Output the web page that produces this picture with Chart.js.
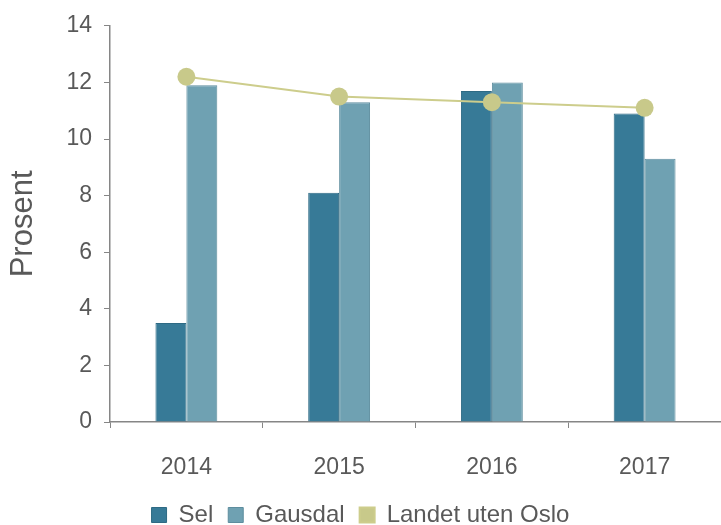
<!DOCTYPE html>
<html>
<head>
<meta charset="utf-8">
<script src="https://cdn.jsdelivr.net/npm/chart.js@4"></script>
<style>
  html, body { margin: 0; padding: 0; background: #fff; }
  canvas { display: block; }
</style>
</head>
<body>
<canvas id="chart" width="721" height="525"></canvas>
<script>
// data
const years = ['2014', '2015', '2016', '2017'];
const sel = [3.5, 8.1, 11.7, 10.9];
const gausdal = [11.9, 11.3, 12.0, 9.3];
const landetUtenOslo = [12.2, 11.5, 11.3, 11.1];
const yTicks = [0, 2, 4, 6, 8, 10, 12, 14];

const textColor = '#595959';
const axisColor = '#868686';
const fontFamily = 'Liberation Sans, Arial';

const ctx = document.getElementById('chart').getContext('2d');
new Chart(ctx, {
  type: 'bar',
  data: {
    labels: years,
    datasets: [
      {
        label: 'Sel',
        data: sel,
        backgroundColor: '#377a97',
        borderColor: '#2e6a84',
        borderWidth: 1,
        categoryPercentage: 0.405,
        barPercentage: 1,
        order: 1
      },
      {
        label: 'Gausdal',
        data: gausdal,
        backgroundColor: '#6fa1b2',
        borderColor: '#5d8d9e',
        borderWidth: 1,
        categoryPercentage: 0.405,
        barPercentage: 1,
        order: 1
      },
      {
        type: 'line',
        label: 'Landet uten Oslo',
        data: landetUtenOslo,
        borderColor: '#cdcd8c',
        backgroundColor: '#c8c98a',
        borderWidth: 2,
        pointRadius: 9,
        pointBackgroundColor: '#c8c98a',
        pointBorderColor: '#c8c98a',
        pointBorderWidth: 0,
        tension: 0,
        order: 0
      }
    ]
  },
  options: {
    responsive: false,
    animation: false,
    layout: { autoPadding: false, padding: { top: 24, right: 0, left: 0, bottom: -12 } },
    plugins: {
      tooltip: { enabled: false },
      legend: {
        position: 'bottom',
        labels: {
          sort: (a, b) => a.datasetIndex - b.datasetIndex,
          boxWidth: 15,
          boxHeight: 15,
          padding: 15,
          color: textColor,
          font: { family: fontFamily, size: 24 }
        }
      }
    },
    scales: {
      x: {
        offset: true,
        afterFit: axis => { axis.height = 66; },
        grid: {
          offset: true,
          drawOnChartArea: false,
          drawTicks: true,
          tickLength: 6,
          color: axisColor
        },
        border: { color: axisColor, width: 1.5 },
        ticks: {
          color: textColor,
          padding: 26,
          font: { family: fontFamily, size: 23 }
        }
      },
      y: {
        min: 0,
        max: 14,
        afterBuildTicks: axis => { axis.ticks = yTicks.map(v => ({ value: v })); },
        afterFit: axis => { axis.width = 110; },
        grid: {
          drawOnChartArea: false,
          drawTicks: true,
          tickLength: 6,
          color: axisColor
        },
        border: { color: axisColor, width: 1.5 },
        ticks: {
          color: textColor,
          padding: 12,
          font: { family: fontFamily, size: 23 }
        },
        title: {
          display: true,
          text: 'Prosent',
          color: textColor,
          padding: { top: 5, bottom: 0 },
          font: { family: fontFamily, size: 31 }
        }
      }
    }
  }
});
</script>
</body>
</html>
